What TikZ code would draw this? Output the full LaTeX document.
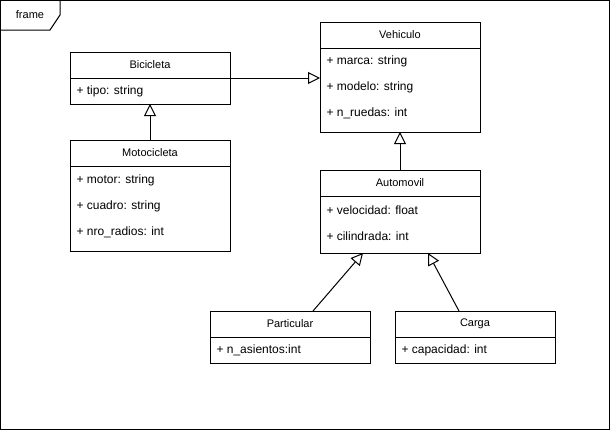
\documentclass[tikz,border=0pt]{standalone}
\usepackage{fontspec}
\setmainfont{Liberation Sans}
\usepackage{tikz}
\usetikzlibrary{arrows.meta,positioning}

\tikzset{
  clshead/.style={draw, minimum width=160pt, minimum height=26pt, inner sep=0pt,
    outer sep=0pt, font=\fontsize{11}{13}\selectfont},
  clsbody/.style={draw, minimum width=160pt, inner sep=0pt, outer sep=0pt},
  attr/.style={anchor=west, inner sep=0pt, font=\fontsize{12}{14}\selectfont},
  inherit/.style={-{Triangle[open,length=12pt,width=12pt]}}
}

\begin{document}
\begin{tikzpicture}[x=1pt,y=-1pt,line width=1pt]
  \useasboundingbox (0,0) rectangle (611,431);

  % frame
  \draw (0.5,0.5) rectangle (609.5,429.5);
  \draw (0.5,30) -- (50,30) -- (60,15) -- (60,0.5);
  \node[font=\fontsize{11}{13}\selectfont] (framelbl) at (30,15) {frame};

  % classes
  \node[clshead] (bici) at (150,65) {Bicicleta};
  \node[clsbody, minimum height=26pt, below=0pt of bici] (bicib) {};
  \node[attr] (bici1) at (76,91) {+ tipo: string};

  \node[clshead] (veh) at (400,35) {Vehiculo};
  \node[clsbody, minimum height=84pt, below=0pt of veh] (vehb) {};
  \node[attr] (veh1) at (326,61) {+ marca: string};
  \node[attr] (veh2) at (326,87) {+ modelo: string};
  \node[attr] (veh3) at (326,113) {+ n\_ruedas: int};

  \node[clshead] (moto) at (150,153) {Motocicleta};
  \node[clsbody, minimum height=85pt, below=0pt of moto] (motob) {};
  \node[attr] (moto1) at (76,180) {+ motor: string};
  \node[attr] (moto2) at (76,206) {+ cuadro: string};
  \node[attr] (moto3) at (76,232) {+ nro\_radios: int};

  \node[clshead] (auto) at (400,183) {Automovil};
  \node[clsbody, minimum height=57pt, below=0pt of auto] (autob) {};
  \node[attr] (auto1) at (326,210) {+ velocidad: float};
  \node[attr] (auto2) at (326,236) {+ cilindrada: int};

  \node[clshead] (part) at (290,324) {Particular};
  \node[clsbody, minimum height=26pt, below=0pt of part] (partb) {};
  \node[attr] (part1) at (216,350) {+ n\_asientos:int};

  \node[clshead] (carga) at (475,324) {Carga};
  \node[clsbody, minimum height=26pt, below=0pt of carga] (cargab) {};
  \node[attr] (carga1) at (401,350) {+ capacidad: int};

  % inheritance
  \draw[inherit] (bici.south east) -- (bici.south east -| vehb.west);
  \draw[inherit] (moto.north) -- (bicib.south);
  \draw[inherit] (auto.north) -- (vehb.south);
  \draw[inherit] ([xshift=23pt]part.north) -- ([xshift=-37pt]autob.south);
  \draw[inherit] ([xshift=-16pt]carga.north) -- ([xshift=28pt]autob.south);
\end{tikzpicture}
\end{document}
